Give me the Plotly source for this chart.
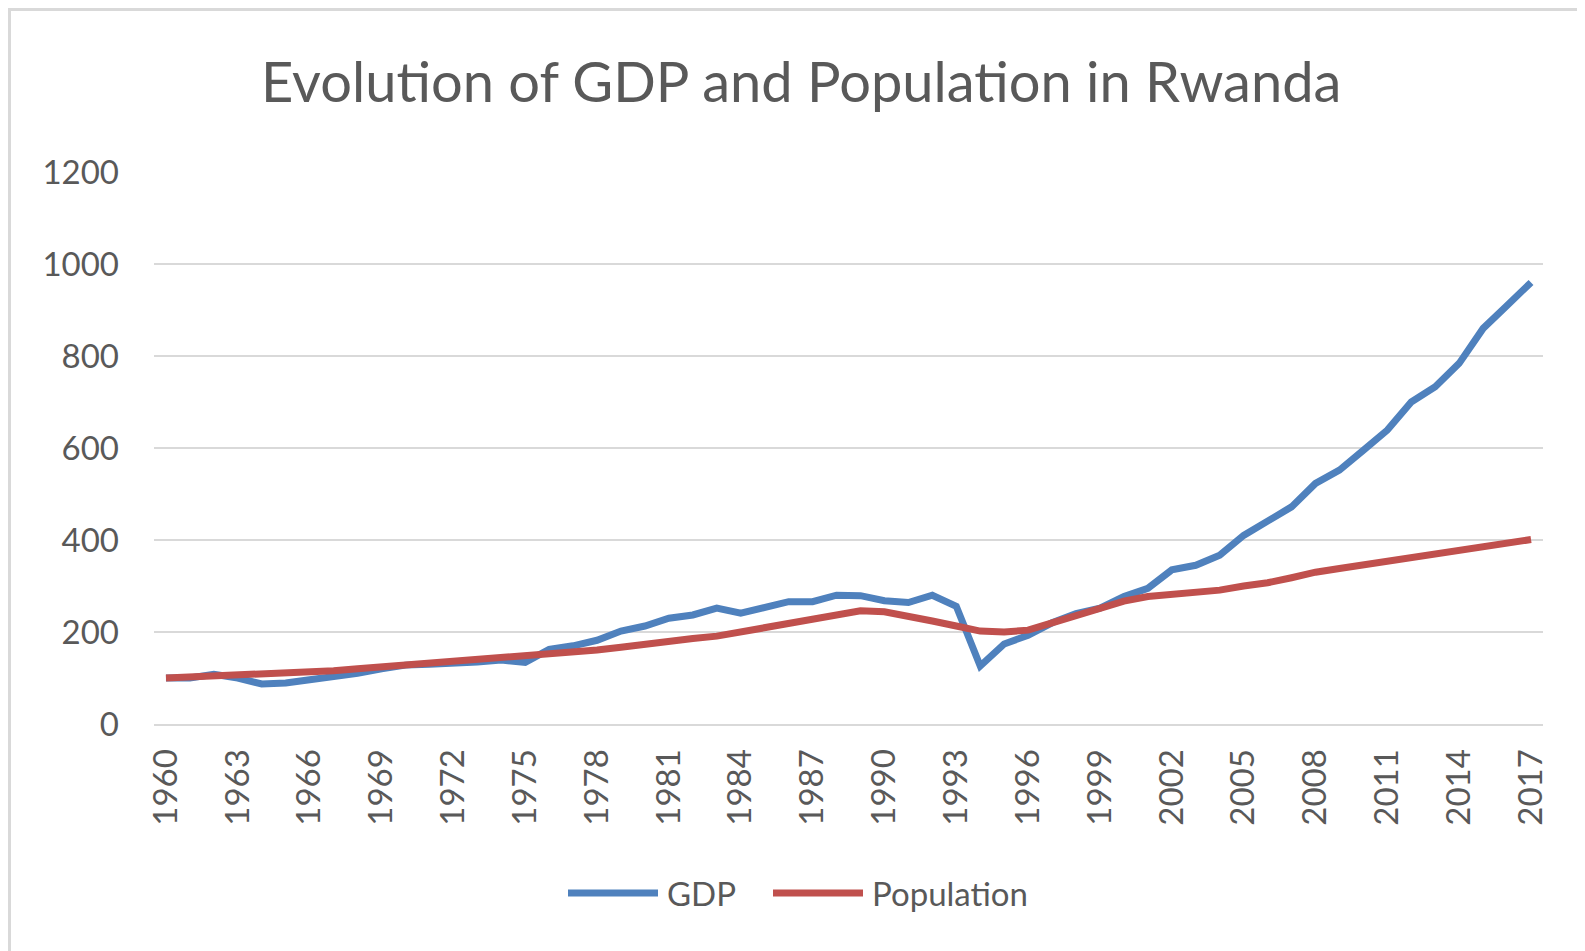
import plotly.graph_objects as go

years = list(range(1960, 2018))
gdp = [100, 100, 108, 100, 87, 89, 96, 102, 110, 120,
       128, 130, 131, 135, 139, 134, 162, 170, 182, 202,
       213, 230, 237, 252, 241, 252, 266, 266, 280, 279,
       268, 264, 280, 256, 126, 174, 193, 220, 240, 252,
       277, 295, 335, 345, 367, 410, 443, 472, 523, 552,
       595, 639, 700, 733, 784, 860, 910, 960]
population = [100, 102, 104, 106, 108, 111, 113, 116, 120, 124,
              128, 131, 135, 139, 143, 147, 152, 156, 161, 167,
              174, 180, 186, 191, 200, 210, 219, 228, 237, 246,
              244, 235, 224, 213, 202, 200, 204, 220, 237, 250,
              267, 277, 282, 286, 291, 300, 307, 318, 330, 338,
              346, 354, 361, 369, 377, 385, 393, 401]
series_names = ["GDP", "Population"]
series_colors = ["#4F81BD", "#C0504D"]
y_ticks = [0, 200, 400, 600, 800, 1000, 1200]
x_ticks = list(range(1960, 2018, 3))

OFF = 8  # page body margin
W, H = 1585 - OFF, 951 - OFF
L, R, T, B = 154 - OFF, 42, 172 - OFF, 227
PW, PH = W - L - R, H - T - B

def px(x):
    # page x -> paper x
    return (x - OFF - L) / PW

def py(y):
    # page y -> paper y
    return (H - B - (y - OFF)) / PH

FONT = "Lato"
GRAY = "#595959"

fig = go.Figure()
for name, vals, col in zip(series_names, [gdp, population], series_colors):
    fig.add_trace(go.Scatter(x=years, y=vals, mode="lines", name=name,
                             line=dict(color=col, width=7, shape="linear"),
                             showlegend=False))

fig.update_layout(
    width=W, height=H,
    margin=dict(l=L, r=R, t=T, b=B),
    paper_bgcolor="white", plot_bgcolor="white",
    font=dict(family=FONT, color=GRAY, size=33),
    title=dict(text="Evolution of GDP and Population in Rwanda",
               x=0.503, xanchor="center", y=1 - (82 - OFF) / H, yanchor="middle",
               font=dict(family=FONT, size=56, color=GRAY)),
    xaxis=dict(range=[1959.5, 2017.5], tickmode="array", tickvals=x_ticks,
               ticktext=[str(v) for v in x_ticks], tickangle=-90,
               showgrid=False, zeroline=False, showline=True,
               linecolor="#d9d9d9", linewidth=2, ticks="",
               ticklabelstandoff=10,
               tickfont=dict(family=FONT, size=33, color=GRAY)),
    yaxis=dict(range=[0, 1200], tickmode="array", tickvals=y_ticks,
               showgrid=True, gridcolor="#d9d9d9", gridwidth=1.5,
               zeroline=False, showline=False, ticks="",
               ticklabelstandoff=34,
               tickfont=dict(family=FONT, size=33, color=GRAY)),
)

# outer chart border (left and top edges visible)
fig.add_shape(type="line", xref="paper", yref="paper",
              x0=px(9.5), x1=px(9.5), y0=py(8), y1=py(960),
              line=dict(color="#d9d9d9", width=3))
fig.add_shape(type="line", xref="paper", yref="paper",
              x0=px(8), x1=px(1600), y0=py(9.5), y1=py(9.5),
              line=dict(color="#d9d9d9", width=3))

# custom legend
legend_items = [(568, 658, 665), (773, 863, 870)]
for (xa, xb, xt), name, col in zip(legend_items, series_names, series_colors):
    fig.add_shape(type="line", xref="paper", yref="paper",
                  x0=px(xa), x1=px(xb), y0=py(893), y1=py(893),
                  line=dict(color=col, width=7))
    fig.add_annotation(xref="paper", yref="paper", x=px(xt), y=py(893),
                       text=name, showarrow=False, xanchor="left",
                       yanchor="middle", font=dict(family=FONT, size=33, color=GRAY))

fig.write_html("out.html")
